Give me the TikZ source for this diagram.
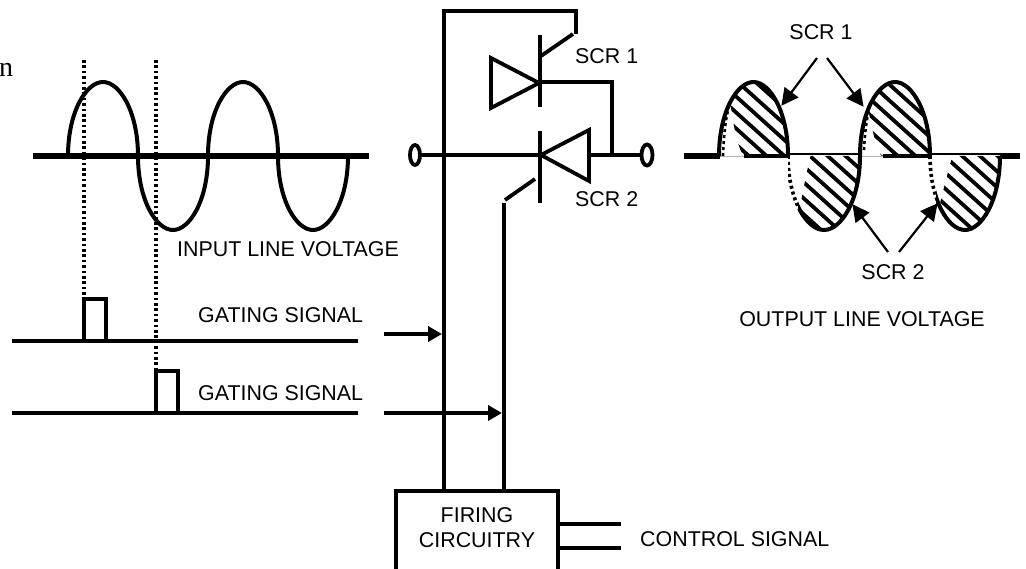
\documentclass[tikz,border=0pt]{standalone}
\usepackage{fontspec}
\setmainfont{Liberation Sans}
\newfontfamily\serifnote{Liberation Serif}
\usetikzlibrary{arrows.meta,shapes.geometric}
\newcommand{\lobepath}[3]{(#1,156) .. controls (#1,156-#3*44) and (#1+#2*0.26,156-#3*74) .. (#1+#2*0.5,156-#3*74) .. controls (#1+#2*0.74,156-#3*74) and (#1+#2,156-#3*44) .. (#1+#2,156)}
\tikzset{
  x=1pt,y=-1pt,
  wire/.style={line width=3.8pt,line join=miter},
  axis/.style={line width=5.4pt},
  curve/.style={line width=4pt},
  dots/.style={line width=3.2pt,dash pattern=on 2.7pt off 2.7pt},
  wavedots/.style={line width=3.6pt,dash pattern=on 3pt off 3pt},
  hatchline/.style={line width=3.8pt},
  bigarrow/.style={line width=2.2pt,-{Triangle[length=17pt,width=17pt]},shorten >=-1pt},
  feed/.style={line width=3.8pt,-{Triangle[length=14pt,width=15pt]}},
  lbl/.style={font=\fontsize{21.4}{24}\selectfont,inner sep=0pt,anchor=base west},
  lblc/.style={font=\fontsize{21.4}{24}\selectfont,inner sep=0pt,anchor=base},
}
\begin{document}
\begin{tikzpicture}
\clip (0,0) rectangle (1026,569);
\path[use as bounding box] (0,0) rectangle (1026,569);
\fill[white] (0,0) rectangle (1026,569);

% stray letter
\node[inner sep=0pt,anchor=base west,font=\serifnote\fontsize{28}{30}\selectfont] (stray) at (-1,77) {n};

% ---- input wave
\draw[dots] (84,60) coordinate (d1a) -- (84,299) coordinate (d1b);
\draw[dots] (156,60) coordinate (d2a) -- (156,371) coordinate (d2b);
\draw[axis] (33,156) coordinate (inL) -- (369,156) coordinate (inR);
\draw[curve] \lobepath{68}{70}{1} \lobepath{138}{70}{-1} \lobepath{208}{70}{1} \lobepath{278}{70}{-1};
\node[lbl] (inlabel) at (177,257) {INPUT LINE VOLTAGE};

% ---- gating signals
\draw[wire] (12,341) coordinate (g1L) -- (358,341) coordinate (g1R);
\draw[wire] (84,341) -- (84,299) -- (106,299) -- (106,341);
\draw[wire] (12,413) coordinate (g2L) -- (358,413) coordinate (g2R);
\draw[wire] (156,413) -- (156,371) -- (178,371) -- (178,413);
\node[lbl] (g1label) at (198,323) {GATING SIGNAL};
\node[lbl] (g2label) at (198,401) {GATING SIGNAL};

% ---- firing box
\node[draw,line width=3.8pt,outer sep=0pt,anchor=north west,minimum width=162pt,minimum height=110pt,inner sep=0pt] (box) at (396,491) {};
\node[lblc] (firing) at (477,522) {FIRING};
\node[lblc] (circ) at (477,547) {CIRCUITRY};
\coordinate (c1) at (558,524);
\coordinate (c2) at (558,548);
\coordinate (c1e) at (621,524);
\coordinate (c2e) at (621,548);
\draw[wire] (c1) -- (c1e);
\draw[wire] (c2) -- (c2e);
\node[lbl] (ctrl) at (640,546) {CONTROL SIGNAL};

% ---- thyristors
\coordinate (w1b) at (444,491);
\coordinate (w1t) at (444,11);
\coordinate (w1r) at (576,11);
\coordinate (w1e) at (576,34);
\draw[wire] (w1b) -- (w1t) -- (w1r) -- (w1e);
\coordinate (w2b) at (504,491);
\coordinate (w2t) at (504,203);
\draw[wire] (w2b) -- (w2t);
\coordinate (ga1a) at (573,34);
\coordinate (ga1b) at (541,56);
\draw[wire] (ga1a) -- (ga1b);
\coordinate (ga2a) at (535,179);
\coordinate (ga2b) at (505,200);
\draw[wire] (ga2a) -- (ga2b);
\draw[wire] (540,35) coordinate (b1t) -- (540,107) coordinate (b1b);
\draw[wire] (540,131) coordinate (b2t) -- (540,203) coordinate (b2b);
\draw[wire] (491,58) -- (491,108) -- (539,83) -- cycle;
\draw[wire] (589,130) -- (589,181) -- (541,155) -- cycle;
\coordinate (a1) at (540,82);
\coordinate (a2) at (612,82);
\coordinate (a3) at (612,155);
\draw[wire] (a1) -- (a2) -- (a3);
\node[draw,line width=3.8pt,outer sep=0pt,ellipse,minimum width=10pt,minimum height=20pt,inner sep=0pt] (tL) at (415,155) {};
\node[draw,line width=3.8pt,outer sep=0pt,ellipse,minimum width=11pt,minimum height=21pt,inner sep=0pt] (tR) at (647,155) {};
\draw[wire] (tL) -- (540,155);
\draw[wire] (589,155) -- (tR);
\node[lbl] (s1) at (575,64) {SCR 1};
\node[lbl] (s2) at (575,207) {SCR 2};

% ---- feed arrows
\coordinate (f1) at (384,334);
\coordinate (f1e) at (442,334);
\coordinate (f2) at (384,413);
\coordinate (f2e) at (502,413);
\draw[feed] (f1) -- (f1e);
\draw[feed] (f2) -- (f2e);

% ---- output wave: hatching
\begin{scope}
  \clip \lobepath{719}{69}{1} -- cycle;
  \clip (730,70) -- (730,100) .. controls (733,125) and (738,150) .. (745,158) -- (800,158) -- (800,70) -- cycle;
  \foreach \o in {-80,-64,...,140}{\draw[hatchline] (700,\o) -- (860,\o+144);}
\end{scope}
\begin{scope}
  \clip \lobepath{788}{72}{-1} -- cycle;
  \clip (811,154) .. controls (806,175) and (802,195) .. (799,214) -- (799,240) -- (870,240) -- (870,154) -- cycle;
  \foreach \o in {40,56,...,260}{\draw[hatchline] (770,\o) -- (930,\o+144);}
\end{scope}
\begin{scope}
  \clip \lobepath{860}{70}{1} -- cycle;
  \clip (867,70) -- (867,102) .. controls (871,125) and (876,150) .. (883,158) -- (940,158) -- (940,70) -- cycle;
  \foreach \o in {-200,-184,...,140}{\draw[hatchline] (840,\o) -- (1000,\o+144);}
\end{scope}
\begin{scope}
  \clip \lobepath{930}{70}{-1} -- cycle;
  \clip (953,154) .. controls (948,172) and (943,190) .. (939,208) -- (939,240) -- (1010,240) -- (1010,154) -- cycle;
  \foreach \o in {-60,-44,...,260}{\draw[hatchline] (900,\o) -- (1060,\o+144);}
\end{scope}

% ---- output wave: baseline
\draw[axis] (684,156) coordinate (oL) -- (720,156) coordinate (oL2);
\draw[line width=1pt,gray!60] (720,157) -- (745,157);
\draw[line width=3.6pt] (744,156) -- (788,156);
\draw[line width=2pt] (788,154) -- (860,154);
\draw[line width=1pt,gray!60] (860,157) -- (884,157);
\draw[line width=3.6pt] (883,156) -- (930,156);
\draw[line width=2pt] (930,154) -- (1000,154);
\draw[axis] (1000,156) coordinate (oR2) -- (1020,156) coordinate (oR);

% ---- output wave: outline
\draw[curve] \lobepath{719}{69}{1};
\draw[curve] \lobepath{860}{70}{1};
\begin{scope}
  \clip (798,140) rectangle (870,240);
  \draw[curve] \lobepath{788}{72}{-1};
\end{scope}
\begin{scope}
  \clip (788,150) rectangle (798,240);
  \draw[wavedots] \lobepath{788}{72}{-1};
\end{scope}
\begin{scope}
  \clip (936,140) rectangle (1010,240);
  \draw[curve] \lobepath{930}{70}{-1};
\end{scope}
\begin{scope}
  \clip (925,150) rectangle (936,240);
  \draw[wavedots] \lobepath{930}{70}{-1};
\end{scope}
\draw[line width=2.6pt,dash pattern=on 3pt off 3pt] (723,156) .. controls (724,130) and (726,115) .. (731,100);
\draw[line width=2.6pt,dash pattern=on 3pt off 3pt] (864,150) .. controls (865,130) and (867,115) .. (871,102);

% ---- output labels and arrows
\node[lblc] (o1) at (821,40) {SCR 1};
\node[lblc] (o2) at (893,280) {SCR 2};
\node[lblc] (olabel) at (862,327) {OUTPUT LINE VOLTAGE};
\coordinate (p1a) at (817,58); \coordinate (p1b) at (782,105);
\coordinate (p2a) at (827,58); \coordinate (p2b) at (863,106);
\coordinate (p3a) at (888,252); \coordinate (p3b) at (853,205);
\coordinate (p4a) at (899,252); \coordinate (p4b) at (937,204);
\draw[bigarrow] (p1a) -- (p1b);
\draw[bigarrow] (p2a) -- (p2b);
\draw[bigarrow] (p3a) -- (p3b);
\draw[bigarrow] (p4a) -- (p4b);
\end{tikzpicture}
\end{document}
